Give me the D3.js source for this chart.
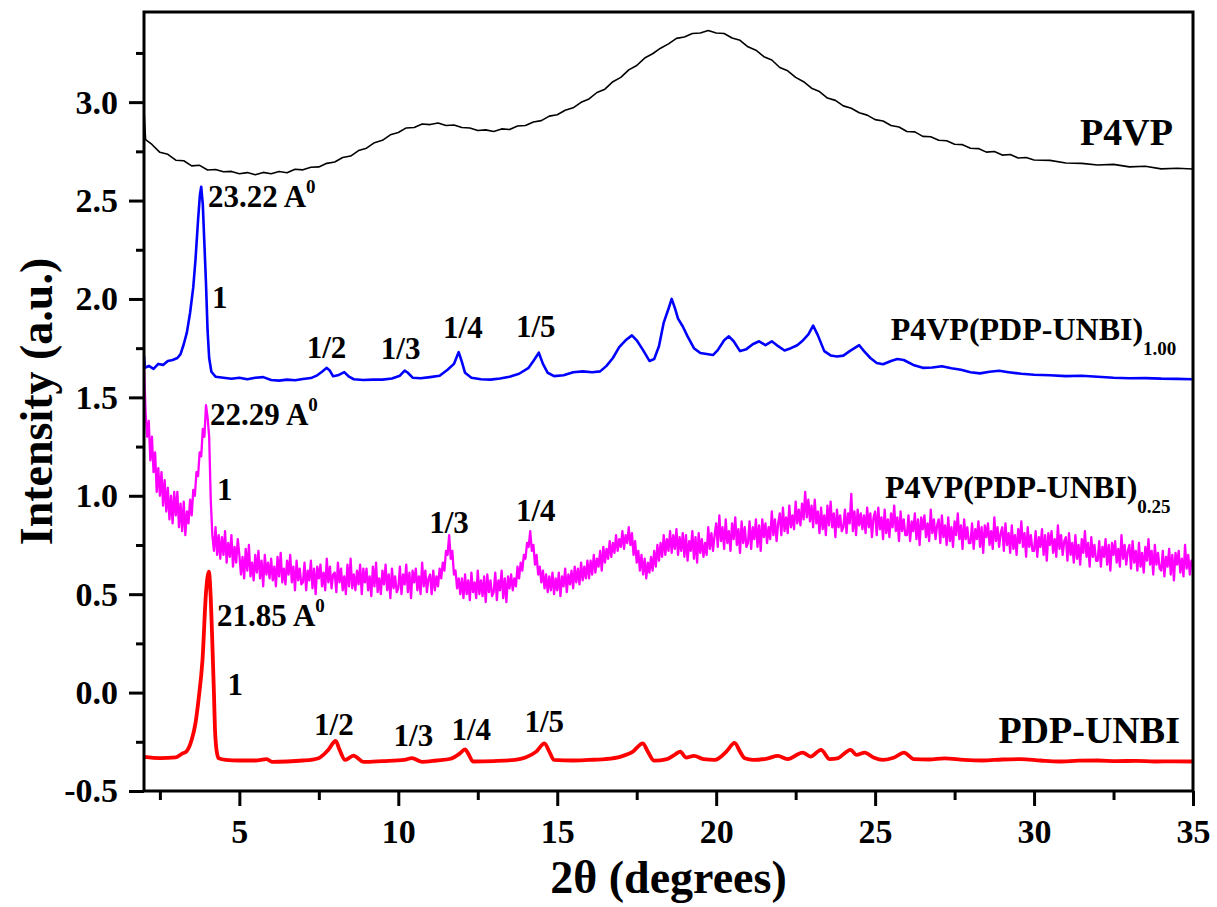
<!DOCTYPE html>
<meta charset="utf-8">
<style>
    html,
    body {
        margin: 0;
        padding: 0;
        background: #fff;
    }

    text {
        font-family: "Liberation Serif", "Times New Roman", serif;
        font-weight: bold;
        fill: #000;
    }
</style>
<svg id="canvas" width="1217" height="907"></svg>
<script src="https://cdn.jsdelivr.net/npm/d3@7/dist/d3.min.js"></script>
<script>
    // ---- data (2 theta in degrees, intensity in a.u.) ----

    // P4VP, sampled every 0.25 deg (first point is the edge spike)
    var p4vpX = [2.0, 2.05, 2.25, 2.5, 2.75, 3.0, 3.25, 3.5, 3.75, 4.0, 4.25, 4.5, 4.75, 5.0, 5.25, 5.5, 5.75, 6.0,
        6.25, 6.5, 6.75, 7.0, 7.25, 7.5, 7.75, 8.0, 8.25, 8.5, 8.75, 9.0, 9.25, 9.5, 9.75, 10.0, 10.25, 10.5, 10.75,
        11.0, 11.25, 11.5, 11.75, 12.0, 12.25, 12.5, 12.75, 13.0, 13.25, 13.5, 13.75, 14.0, 14.25, 14.5, 14.75,
        15.0, 15.25, 15.5, 15.75, 16.0, 16.25, 16.5, 16.75, 17.0, 17.25, 17.5, 17.75, 18.0, 18.25, 18.5, 18.75,
        19.0, 19.25, 19.5, 19.75, 20.0, 20.25, 20.5, 20.75, 21.0, 21.25, 21.5, 21.75, 22.0, 22.25, 22.5, 22.75,
        23.0, 23.25, 23.5, 23.75, 24.0, 24.25, 24.5, 24.75, 25.0, 25.25, 25.5, 25.75, 26.0, 26.25, 26.5, 26.75,
        27.0, 27.25, 27.5, 27.75, 28.0, 28.25, 28.5, 28.75, 29.0, 29.25, 29.5, 29.75, 30.0, 30.5, 31.0, 31.5,
        32.0, 32.5, 33.0, 33.5, 34.0, 34.5, 35.0];
    var p4vpY = [2.96, 2.81, 2.785, 2.745, 2.735, 2.705, 2.702, 2.676, 2.679, 2.655, 2.658, 2.646, 2.648, 2.636,
        2.642, 2.631, 2.643, 2.636, 2.648, 2.641, 2.659, 2.656, 2.669, 2.671, 2.689, 2.696, 2.719, 2.726, 2.754,
        2.766, 2.794, 2.806, 2.834, 2.846, 2.869, 2.871, 2.889, 2.886, 2.894, 2.881, 2.884, 2.871, 2.869, 2.856,
        2.859, 2.851, 2.864, 2.861, 2.879, 2.881, 2.899, 2.906, 2.929, 2.936, 2.959, 2.971, 2.999, 3.016, 3.049,
        3.066, 3.104, 3.126, 3.164, 3.186, 3.224, 3.246, 3.274, 3.296, 3.324, 3.331, 3.349, 3.351, 3.364, 3.351,
        3.349, 3.326, 3.314, 3.281, 3.264, 3.231, 3.214, 3.176, 3.159, 3.126, 3.104, 3.071, 3.054, 3.021, 3.009,
        2.981, 2.969, 2.946, 2.934, 2.911, 2.904, 2.881, 2.874, 2.851, 2.849, 2.826, 2.824, 2.806, 2.804, 2.786,
        2.784, 2.766, 2.764, 2.746, 2.749, 2.731, 2.734, 2.716, 2.719, 2.706, 2.704, 2.691, 2.689, 2.681, 2.684,
        2.671, 2.674, 2.661, 2.664, 2.66];

    // P4VP(PDP-UNBI)1.00
    var blueX = [2.0, 2.03, 2.15, 2.3, 2.45, 2.6, 2.75, 2.9, 3.05, 3.15, 3.25, 3.35, 3.45, 3.55, 3.62, 3.7, 3.76,
        3.8, 3.85, 3.9, 3.95, 4.0, 4.05, 4.12, 4.25, 4.5, 4.75, 5.0, 5.25, 5.5, 5.75, 6.0, 6.25, 6.5, 6.75, 7.0,
        7.25, 7.45, 7.6, 7.75, 7.85, 7.95, 8.1, 8.3, 8.45, 8.6, 8.9, 9.2, 9.5, 9.8, 10.05, 10.2, 10.3, 10.45, 10.7,
        11.0, 11.3, 11.55, 11.75, 11.9, 12.0, 12.1, 12.3, 12.6, 12.9, 13.2, 13.5, 13.8, 14.1, 14.25, 14.42, 14.55,
        14.7, 14.9, 15.2, 15.5, 15.8, 16.1, 16.35, 16.55, 16.75, 16.95, 17.15, 17.35, 17.5, 17.7, 17.9, 18.05,
        18.2, 18.35, 18.5, 18.6, 18.7, 18.8, 18.95, 19.1, 19.3, 19.5, 19.7, 19.9, 20.05, 20.25, 20.4, 20.55, 20.75,
        20.95, 21.15, 21.35, 21.55, 21.75, 21.95, 22.15, 22.35, 22.55, 22.7, 22.9, 23.05, 23.2, 23.4, 23.6, 23.8,
        24.0, 24.2, 24.4, 24.5, 24.65, 24.85, 25.05, 25.25, 25.5, 25.7, 25.9, 26.2, 26.5, 26.8, 27.1, 27.4, 27.7,
        28.0, 28.3, 28.6, 28.9, 29.2, 29.6, 30.0, 30.5, 31.0, 31.5, 32.0, 32.5, 33.0, 33.5, 34.0, 34.5, 35.0];
    var blueY = [1.71, 1.65, 1.66, 1.645, 1.67, 1.665, 1.685, 1.69, 1.70, 1.72, 1.77, 1.83, 1.93, 2.06, 2.2, 2.4,
        2.53, 2.57, 2.48, 2.28, 2.08, 1.84, 1.70, 1.63, 1.605, 1.60, 1.595, 1.60, 1.592, 1.60, 1.603, 1.588, 1.585,
        1.59, 1.587, 1.593, 1.598, 1.612, 1.63, 1.65, 1.635, 1.607, 1.612, 1.628, 1.605, 1.592, 1.588, 1.59, 1.59,
        1.596, 1.61, 1.636, 1.625, 1.60, 1.597, 1.603, 1.61, 1.64, 1.67, 1.73, 1.68, 1.625, 1.60, 1.592, 1.59,
        1.596, 1.605, 1.62, 1.65, 1.685, 1.727, 1.67, 1.625, 1.608, 1.612, 1.628, 1.632, 1.628, 1.632, 1.66, 1.70,
        1.755, 1.79, 1.815, 1.79, 1.74, 1.685, 1.695, 1.76, 1.88, 1.95, 2.0, 1.955, 1.9, 1.86, 1.81, 1.75, 1.725,
        1.72, 1.715, 1.74, 1.79, 1.81, 1.785, 1.735, 1.745, 1.77, 1.785, 1.765, 1.785, 1.76, 1.738, 1.75, 1.765,
        1.785, 1.82, 1.865, 1.815, 1.735, 1.713, 1.708, 1.712, 1.735, 1.755, 1.765, 1.735, 1.70, 1.675, 1.668,
        1.685, 1.695, 1.69, 1.665, 1.65, 1.652, 1.658, 1.648, 1.64, 1.628, 1.622, 1.63, 1.635, 1.628, 1.62, 1.615,
        1.612, 1.608, 1.61, 1.605, 1.60, 1.597, 1.598, 1.595, 1.594, 1.592];

    // P4VP(PDP-UNBI)0.25, one reading every 0.05 deg from 2.0 to 35.0 (one row per degree)
    var magentaStart = 2.0,
        magentaStep = 0.05;
    var magentaY = [
        1.66, 1.42, 1.30, 1.38, 1.18, 1.30, 1.12, 1.22, 1.02, 1.14, 1.00, 1.12, 0.95, 1.08, 0.92, 1.04, 0.88, 1.00, 0.86, 1.02,
        0.90, 1.02, 0.84, 0.96, 0.82, 0.97, 0.80, 0.92, 0.86, 0.98, 0.90, 1.03, 1.00, 1.12, 1.10, 1.22, 1.20, 1.34, 1.30, 1.46,
        1.40, 1.30, 0.98, 0.80, 0.72, 0.84, 0.70, 0.80, 0.68, 0.79, 0.70, 0.82, 0.66, 0.76, 0.69, 0.80, 0.64, 0.74, 0.66, 0.78,
        0.70, 0.60, 0.69, 0.58, 0.73, 0.62, 0.75, 0.59, 0.66, 0.57, 0.70, 0.61, 0.72, 0.58, 0.67, 0.54, 0.70, 0.60, 0.66, 0.58,
        0.68, 0.57, 0.64, 0.54, 0.69, 0.59, 0.71, 0.56, 0.63, 0.55, 0.67, 0.60, 0.70, 0.56, 0.64, 0.52, 0.67, 0.57, 0.63, 0.55,
        0.56, 0.66, 0.52, 0.62, 0.57, 0.67, 0.53, 0.63, 0.50, 0.64, 0.58, 0.65, 0.54, 0.61, 0.52, 0.68, 0.56, 0.64, 0.53, 0.60,
        0.61, 0.51, 0.66, 0.56, 0.63, 0.52, 0.59, 0.50, 0.65, 0.54, 0.68, 0.53, 0.60, 0.52, 0.62, 0.55, 0.65, 0.50, 0.63, 0.56,
        0.63, 0.52, 0.59, 0.49, 0.64, 0.54, 0.66, 0.51, 0.58, 0.50, 0.62, 0.55, 0.65, 0.52, 0.60, 0.48, 0.63, 0.53, 0.59, 0.51,
        0.53, 0.64, 0.50, 0.60, 0.55, 0.65, 0.51, 0.61, 0.48, 0.62, 0.56, 0.63, 0.52, 0.59, 0.50, 0.66, 0.54, 0.62, 0.51, 0.58,
        0.60, 0.50, 0.62, 0.52, 0.59, 0.54, 0.63, 0.58, 0.66, 0.62, 0.72, 0.70, 0.80, 0.68, 0.72, 0.60, 0.62, 0.53, 0.58, 0.50,
        0.58, 0.48, 0.60, 0.50, 0.57, 0.47, 0.61, 0.51, 0.56, 0.48, 0.62, 0.50, 0.57, 0.49, 0.59, 0.46, 0.60, 0.51, 0.57, 0.49,
        0.51, 0.61, 0.47, 0.57, 0.52, 0.62, 0.48, 0.58, 0.46, 0.59, 0.53, 0.60, 0.52, 0.58, 0.54, 0.64, 0.58, 0.66, 0.62, 0.70,
        0.68, 0.76, 0.74, 0.82, 0.72, 0.75, 0.65, 0.70, 0.60, 0.64, 0.56, 0.62, 0.53, 0.60, 0.51, 0.59, 0.52, 0.61, 0.50, 0.58,
        0.52, 0.61, 0.49, 0.59, 0.54, 0.63, 0.51, 0.60, 0.55, 0.62, 0.53, 0.64, 0.56, 0.63, 0.55, 0.66, 0.57, 0.64, 0.58, 0.67,
        0.58, 0.67, 0.60, 0.70, 0.61, 0.68, 0.64, 0.72, 0.62, 0.74, 0.66, 0.73, 0.68, 0.77, 0.69, 0.76, 0.71, 0.80, 0.72, 0.78,
        0.74, 0.82, 0.73, 0.80, 0.76, 0.84, 0.75, 0.81, 0.70, 0.77, 0.66, 0.72, 0.62, 0.70, 0.60, 0.68, 0.58, 0.66, 0.61, 0.69,
        0.62, 0.72, 0.64, 0.75, 0.67, 0.76, 0.69, 0.80, 0.70, 0.78, 0.72, 0.82, 0.71, 0.80, 0.73, 0.83, 0.70, 0.79, 0.72, 0.81,
        0.69, 0.80, 0.67, 0.77, 0.72, 0.82, 0.68, 0.79, 0.66, 0.81, 0.71, 0.78, 0.69, 0.76, 0.70, 0.84, 0.73, 0.81, 0.72, 0.80,
        0.86, 0.74, 0.90, 0.77, 0.84, 0.73, 0.88, 0.76, 0.82, 0.72, 0.86, 0.78, 0.89, 0.75, 0.83, 0.71, 0.87, 0.76, 0.84, 0.74,
        0.76, 0.87, 0.73, 0.84, 0.78, 0.88, 0.74, 0.85, 0.72, 0.88, 0.79, 0.86, 0.76, 0.84, 0.78, 0.92, 0.80, 0.88, 0.77, 0.86,
        0.91, 0.80, 0.94, 0.82, 0.89, 0.81, 0.95, 0.84, 0.90, 0.83, 0.97, 0.86, 0.93, 0.85, 0.96, 0.88, 1.02, 0.89, 0.98, 0.87,
        0.95, 0.84, 0.98, 0.86, 0.92, 0.81, 0.94, 0.83, 0.90, 0.80, 0.95, 0.85, 0.97, 0.84, 0.91, 0.79, 0.93, 0.84, 0.90, 0.82,
        0.84, 0.93, 0.81, 0.91, 0.86, 1.01, 0.82, 0.92, 0.80, 0.93, 0.85, 0.91, 0.83, 0.90, 0.81, 0.94, 0.84, 0.91, 0.79, 0.89,
        0.92, 0.80, 0.94, 0.83, 0.89, 0.78, 0.93, 0.81, 0.88, 0.79, 0.91, 0.84, 0.95, 0.82, 0.89, 0.77, 0.92, 0.82, 0.88, 0.80,
        0.80, 0.90, 0.77, 0.87, 0.82, 0.91, 0.78, 0.88, 0.75, 0.89, 0.83, 0.90, 0.79, 0.86, 0.77, 0.93, 0.81, 0.88, 0.78, 0.85,
        0.88, 0.76, 0.90, 0.79, 0.85, 0.75, 0.89, 0.77, 0.84, 0.74, 0.87, 0.80, 0.91, 0.78, 0.85, 0.73, 0.88, 0.78, 0.84, 0.76,
        0.76, 0.86, 0.73, 0.83, 0.78, 0.87, 0.74, 0.84, 0.71, 0.85, 0.79, 0.86, 0.75, 0.82, 0.73, 0.89, 0.77, 0.84, 0.74, 0.81,
        0.84, 0.72, 0.86, 0.75, 0.81, 0.71, 0.85, 0.73, 0.80, 0.70, 0.83, 0.76, 0.87, 0.74, 0.81, 0.69, 0.84, 0.74, 0.80, 0.72,
        0.72, 0.82, 0.69, 0.79, 0.74, 0.83, 0.70, 0.80, 0.67, 0.81, 0.75, 0.82, 0.71, 0.78, 0.69, 0.85, 0.73, 0.80, 0.70, 0.77,
        0.79, 0.67, 0.81, 0.70, 0.76, 0.66, 0.80, 0.68, 0.75, 0.65, 0.78, 0.71, 0.82, 0.69, 0.76, 0.64, 0.79, 0.69, 0.75, 0.67,
        0.67, 0.77, 0.64, 0.74, 0.69, 0.78, 0.65, 0.75, 0.62, 0.76, 0.70, 0.77, 0.66, 0.73, 0.64, 0.80, 0.68, 0.75, 0.65, 0.72,
        0.75, 0.63, 0.77, 0.66, 0.72, 0.62, 0.76, 0.64, 0.71, 0.61, 0.74, 0.67, 0.78, 0.65, 0.72, 0.60, 0.75, 0.65, 0.71, 0.63,
        0.62, 0.72, 0.59, 0.69, 0.64, 0.73, 0.60, 0.70, 0.57, 0.71, 0.65, 0.72, 0.61, 0.68, 0.59, 0.75, 0.63, 0.70, 0.60, 0.67,
        0.64];

    // PDP-UNBI
    var redX = [2.0, 2.5, 3.0, 3.2, 3.33, 3.5, 3.62, 3.72, 3.84, 3.95, 4.04, 4.1, 4.15, 4.2, 4.23, 4.28, 4.35, 4.57,
        5.0, 5.5, 5.86, 6.03, 6.5, 7.0, 7.3, 7.49, 7.65, 7.8, 8.03, 8.15, 8.33, 8.59, 8.9, 9.5, 10.19, 10.43, 10.75,
        11.2, 11.65, 11.93, 12.1, 12.2, 12.35, 13.0, 13.67, 14.0, 14.34, 14.6, 14.75, 14.9, 15.5, 16.0, 16.5, 17.0,
        17.38, 17.69, 17.85, 18.05, 18.45, 18.7, 18.87, 19.05, 19.3, 19.6, 19.96, 20.32, 20.58, 20.75, 20.9, 21.16,
        21.6, 21.94, 22.24, 22.72, 22.97, 23.3, 23.57, 23.81, 24.23, 24.41, 24.67, 24.95, 25.25, 25.6, 25.91, 26.22,
        26.7, 27.18, 27.8, 28.38, 29.0, 29.58, 30.2, 30.78, 31.4, 32.0, 32.6, 33.2, 33.8, 34.4, 35.0];
    var redY = [-0.327, -0.333, -0.329, -0.31, -0.30, -0.24, -0.155, -0.03, 0.166, 0.506, 0.614, 0.48, 0.252, 0.0,
        -0.173, -0.29, -0.334, -0.342, -0.345, -0.345, -0.338, -0.352, -0.35, -0.345, -0.34, -0.334, -0.315, -0.29,
        -0.246, -0.29, -0.342, -0.32, -0.352, -0.348, -0.342, -0.333, -0.352, -0.345, -0.336, -0.31, -0.288, -0.31,
        -0.35, -0.348, -0.342, -0.33, -0.30, -0.258, -0.30, -0.342, -0.345, -0.342, -0.338, -0.325, -0.30, -0.258,
        -0.30, -0.346, -0.338, -0.315, -0.30, -0.33, -0.322, -0.338, -0.342, -0.30, -0.255, -0.30, -0.334, -0.342,
        -0.335, -0.322, -0.338, -0.305, -0.325, -0.291, -0.338, -0.334, -0.291, -0.316, -0.305, -0.33, -0.342,
        -0.33, -0.305, -0.338, -0.34, -0.334, -0.342, -0.345, -0.34, -0.338, -0.345, -0.35, -0.346, -0.345, -0.348,
        -0.347, -0.35, -0.349, -0.35];

    // axis ticks
    var xMajor = [5, 10, 15, 20, 25, 30, 35];
    var xMinor = [2.5, 7.5, 12.5, 17.5, 22.5, 27.5, 32.5];
    var yMajor = [-0.5, 0.0, 0.5, 1.0, 1.5, 2.0, 2.5, 3.0];
    var yMinor = [-0.25, 0.25, 0.75, 1.25, 1.75, 2.25, 2.75, 3.25];

    // peak annotations: [text, superscript, 2theta, intensity]
    var peakNotes = [
        ["23.22 A", "0", 4.01, 2.468],
        ["1", "", 4.14, 1.954],
        ["1/2", "", 7.12, 1.70],
        ["1/3", "", 9.45, 1.695],
        ["1/4", "", 11.41, 1.80],
        ["1/5", "", 13.70, 1.805],
        ["22.29 A", "0", 4.08, 1.36],
        ["1", "", 4.30, 0.979],
        ["1/3", "", 10.97, 0.811],
        ["1/4", "", 13.70, 0.872],
        ["21.85 A", "0", 4.30, 0.338],
        ["1", "", 4.63, -0.012],
        ["1/2", "", 7.35, -0.215],
        ["1/3", "", 9.85, -0.271],
        ["1/4", "", 11.67, -0.241],
        ["1/5", "", 13.97, -0.20]
    ];

    // series names: [name, subscript, 2theta, intensity, anchor]
    var seriesNames = [
        ["P4VP", "", 34.37, 2.783, "end"],
        ["P4VP(PDP-UNBI)", "1.00", 25.49, 1.792, "start"],
        ["P4VP(PDP-UNBI)", "0.25", 25.31, 0.989, "start"],
        ["PDP-UNBI", "", 34.59, -0.256, "end"]
    ];

    // ---- chart ----
    var svg = d3.select("svg"),
        width = +svg.attr("width"),
        height = +svg.attr("height");

    var margin = { top: 12, right: 24, bottom: 116, left: 144 };
    var innerW = width - margin.left - margin.right,
        innerH = height - margin.top - margin.bottom;

    var x = d3.scaleLinear().domain([2, 35]).range([0, innerW]);
    var y = d3.scaleLinear().domain([-0.5, 3.458]).range([innerH, 0]);

    var g = svg.append("g").attr("transform", "translate(" + margin.left + "," + margin.top + ")");

    function zip(xs, ys) {
        return xs.map(function(v, i) { return [v, ys[i]]; });
    }

    var magenta = magentaY.map(function(v, i) { return [magentaStart + i * magentaStep, v]; });

    var series = [
        { pts: zip(p4vpX, p4vpY), color: "#000000", w: 1.6, curve: d3.curveLinear },
        { pts: zip(blueX, blueY), color: "#0000ff", w: 2.6, curve: d3.curveLinear },
        { pts: magenta, color: "#ff00ff", w: 2.3, curve: d3.curveLinear },
        { pts: zip(redX, redY), color: "#ff0000", w: 3.8, curve: d3.curveMonotoneX }
    ];

    g.append("clipPath").attr("id", "plotclip")
        .append("rect").attr("width", innerW).attr("height", innerH);

    var lines = g.append("g").attr("clip-path", "url(#plotclip)");
    series.forEach(function(s) {
        var line = d3.line()
            .x(function(d) { return x(d[0]); })
            .y(function(d) { return y(d[1]); })
            .curve(s.curve);
        lines.append("path")
            .datum(s.pts)
            .attr("d", line)
            .attr("fill", "none")
            .attr("stroke", s.color)
            .attr("stroke-width", s.w)
            .attr("stroke-linejoin", "round");
    });

    // axes
    var fmt = function(d) { return d.toFixed(1); };

    g.append("g").attr("transform", "translate(0," + innerH + ")")
        .call(d3.axisBottom(x).tickValues(xMajor).tickSize(15).tickPadding(13).tickSizeOuter(0));
    g.append("g").attr("transform", "translate(0," + innerH + ")")
        .call(d3.axisBottom(x).tickValues(xMinor).tickSize(9).tickFormat("").tickSizeOuter(0));

    g.append("g")
        .call(d3.axisLeft(y).tickValues(yMajor).tickSize(15).tickPadding(11).tickFormat(fmt).tickSizeOuter(0));
    g.append("g")
        .call(d3.axisLeft(y).tickValues(yMinor).tickSize(8).tickFormat("").tickSizeOuter(0));

    g.selectAll(".domain").remove();
    g.selectAll(".tick line").attr("stroke", "#000").attr("stroke-width", 3);
    g.selectAll(".tick text")
        .style("font-family", '"Liberation Serif", "Times New Roman", serif')
        .style("font-weight", "bold")
        .style("font-size", "34px")
        .attr("fill", "#000");

    g.append("rect")
        .attr("width", innerW)
        .attr("height", innerH)
        .attr("fill", "none")
        .attr("stroke", "#000")
        .attr("stroke-width", 3);

    // axis titles
    svg.append("text")
        .attr("x", margin.left + innerW / 2)
        .attr("y", 893)
        .attr("text-anchor", "middle")
        .style("font-size", "46px")
        .text("2\u03b8 (degrees)");

    svg.append("text")
        .attr("transform", "translate(52," + (margin.top + innerH / 2) + ") rotate(-90)")
        .attr("text-anchor", "middle")
        .style("font-size", "46px")
        .text("Intensity (a.u.)");

    // peak notes
    peakNotes.forEach(function(n) {
        var t = g.append("text")
            .attr("x", x(n[2]))
            .attr("y", y(n[3]))
            .style("font-size", "31px")
            .text(n[0]);
        if (n[1]) {
            t.append("tspan")
                .attr("dy", -14)
                .style("font-size", "19px")
                .text(n[1]);
        }
    });

    // series names
    seriesNames.forEach(function(n) {
        var big = n[1] ? 32 : 38;
        var t = g.append("text")
            .attr("x", x(n[2]))
            .attr("y", y(n[3]))
            .attr("text-anchor", n[4])
            .style("font-size", big + "px")
            .text(n[0]);
        if (n[1]) {
            t.append("tspan")
                .attr("dy", 15)
                .style("font-size", "19px")
                .text(n[1]);
        }
    });
</script>
